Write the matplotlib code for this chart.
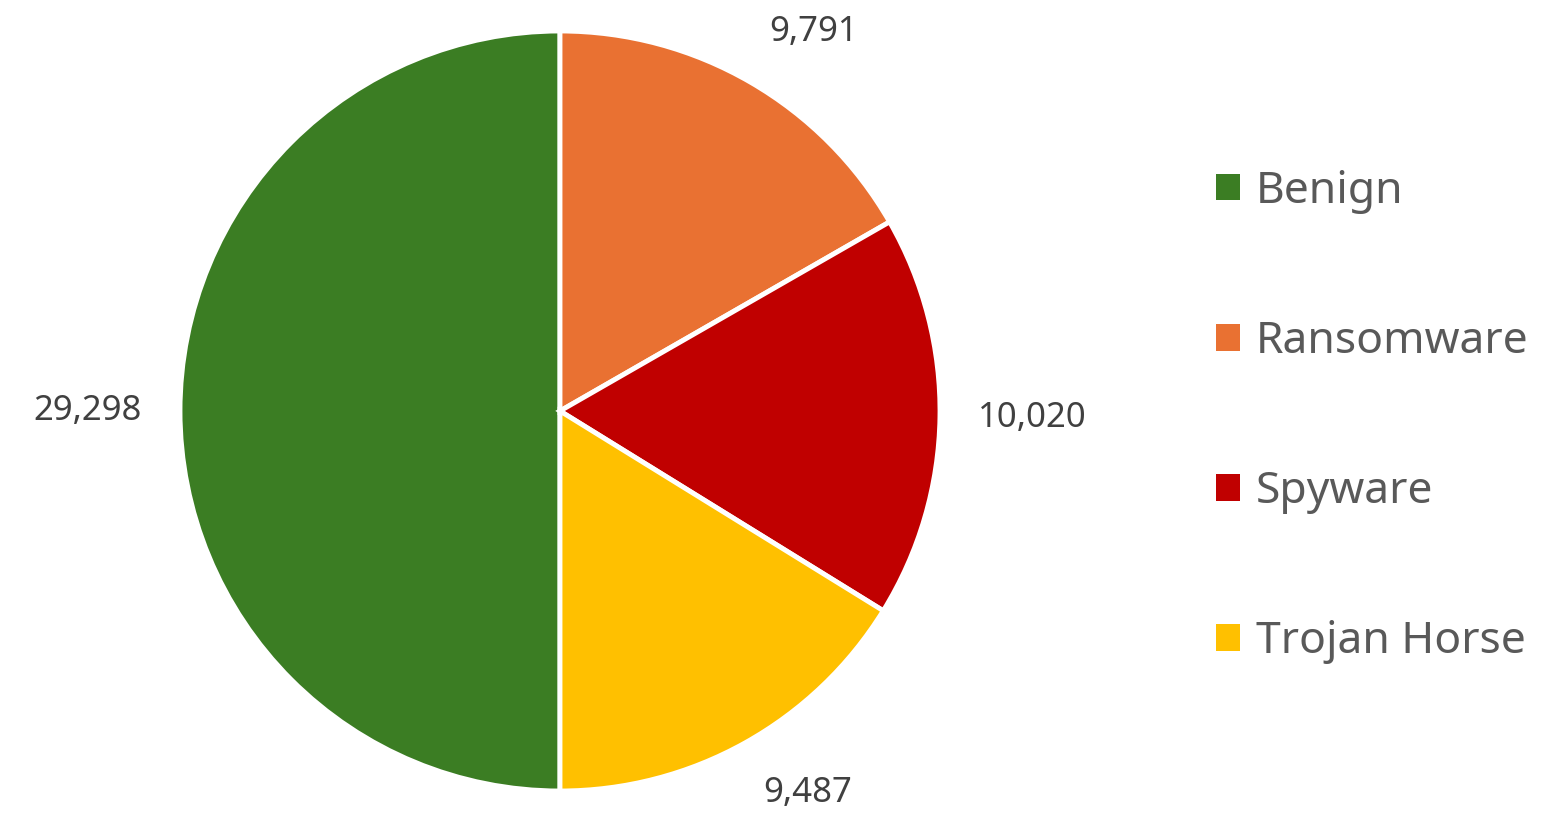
import matplotlib
matplotlib.use("Agg")
import numpy as np
import matplotlib.pyplot as plt
from matplotlib.patches import Patch

categories = ["Benign", "Ransomware", "Spyware", "Trojan Horse"]
counts = [29298, 9791, 10020, 9487]
colors = ["#3B7D23", "#E97132", "#C00000", "#FFC000"]

plt.rcParams["font.family"] = ["Noto Sans", "DejaVu Sans"]

W, H = 1562, 826
fig = plt.figure(figsize=(W / 100, H / 100), dpi=100)

# pie centre ~ (560, 411) px, radius ~ 380 px
cx, cy, r = 560, 411, 380
ax = fig.add_axes([(cx - r) / W, (H - cy - r) / H, 2 * r / W, 2 * r / H])

wedges, _ = ax.pie(
    counts,
    colors=colors,
    startangle=-90,
    counterclock=False,
    wedgeprops=dict(edgecolor="white", linewidth=3.5),
)

# data labels just outside the edge, aligned away from the pie (Excel style)
for w, v in zip(wedges, counts):
    ang = np.deg2rad((w.theta1 + w.theta2) / 2)
    x, y = 1.1 * np.cos(ang), 1.1 * np.sin(ang)
    ha = "center" if abs(np.cos(ang)) < 0.3 else ("left" if x > 0 else "right")
    va = "center" if abs(np.sin(ang)) < 0.3 else ("bottom" if y > 0 else "top")
    ax.text(x, y, f"{v:,}", ha=ha, va=va, fontsize=25, color="#404040")

ax.set_xlim(-1, 1)
ax.set_ylim(-1, 1)
ax.set_aspect("equal")
ax.axis("off")

handles = [Patch(facecolor=c, edgecolor="none") for c in colors]
fig.legend(
    handles, categories,
    loc="center left",
    bbox_to_anchor=(1216 / W, (H - 417) / H),
    frameon=False,
    fontsize=32,
    labelcolor="#595959",
    handlelength=0.55,
    handleheight=0.55,
    handletextpad=0.35,
    labelspacing=2.39,
    borderpad=0,
    borderaxespad=0,
)

fig.savefig("out.png", dpi=100)
